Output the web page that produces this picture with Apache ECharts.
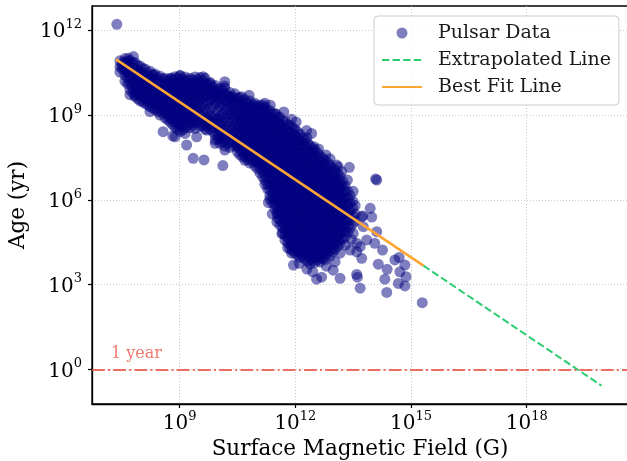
<!DOCTYPE html>
<html>
<head>
<meta charset="utf-8">
<script src="https://cdn.jsdelivr.net/npm/echarts@6/dist/echarts.min.js"></script>
<style>
  html, body { margin: 0; padding: 0; background: #ffffff; }
  #chart { width: 627px; height: 461px; }
</style>
</head>
<body>
<div id="chart"></div>
<script>
// ---- data (log10 units) ----
// Axis extents, as powers of ten
const xLogRange = [6.726, 20.626];
const yLogRange = [-1.228, 12.86];
const xTickExps = [9, 12, 15, 18];
const yTickExps = [0, 3, 6, 9, 12];

// Millisecond-pulsar band: [log10 B, log10 age, log10 age, ...]
const mspBand = [
  [7.45, 10.92, 10.71, 10.52],
  [7.58, 11.0, 10.82, 10.6, 10.41, 10.2],
  [7.71, 10.93, 10.72, 10.5, 10.31, 10.1, 9.9, 9.72],
  [7.84, 10.86, 10.66, 10.45, 10.24, 10.04, 9.85, 9.66],
  [7.97, 10.74, 10.52, 10.31, 10.12, 9.9, 9.7, 9.5],
  [8.10, 10.63, 10.42, 10.22, 10.0, 9.8, 9.6, 9.41],
  [8.23, 10.55, 10.33, 10.12, 9.92, 9.7, 9.5, 9.3],
  [8.36, 10.45, 10.24, 10.02, 9.82, 9.6, 9.4, 9.2],
  [8.49, 10.37, 10.16, 9.95, 9.75, 9.55, 9.35, 9.15, 9.0],
  [8.62, 10.3, 10.1, 9.9, 9.7, 9.5, 9.3, 9.1, 8.9],
  [8.75, 10.3, 10.1, 9.88, 9.68, 9.5, 9.3, 9.1, 8.92, 8.75],
  [8.88, 10.36, 10.15, 9.95, 9.75, 9.55, 9.35, 9.15, 8.95, 8.75, 8.56],
  [9.01, 10.4, 10.2, 10.0, 9.8, 9.6, 9.4, 9.2, 9.0, 8.8, 8.6, 8.42],
  [9.14, 10.35, 10.15, 9.95, 9.75, 9.55, 9.35, 9.15, 8.95, 8.75, 8.55, 8.35],
  [9.27, 10.3, 10.1, 9.9, 9.7, 9.5, 9.3, 9.1, 8.9, 8.72, 8.55],
  [9.40, 10.35, 10.14, 9.95, 9.75, 9.55, 9.33, 9.12, 8.95, 8.74, 8.52],
  [9.53, 10.33, 10.14, 9.95, 9.74, 9.55, 9.3, 9.02, 8.8, 8.6],
  [9.66, 10.3, 10.1, 9.9, 9.7, 9.48, 9.2, 8.9, 8.7, 8.5],
  [9.79, 10.15, 9.95, 9.75, 9.55, 9.25, 8.95, 8.74, 8.5],
  [9.92, 10.05, 9.85, 9.64, 9.4, 9.0, 8.8, 8.55, 8.3, 8.12],
  [10.05, 9.95, 9.75, 9.55, 9.3, 8.95, 8.7, 8.45, 8.2, 8.0],
  [10.17, 9.95, 9.74, 9.5, 9.2, 8.9, 8.6, 8.35, 8.1, 7.9],
  [10.30, 9.8, 9.6, 9.4, 9.15, 8.9, 8.6, 8.35, 8.1, 7.86],
  [10.43, 9.75, 9.55, 9.35, 9.15, 8.9, 8.65, 8.4, 8.15, 7.9]
];

// Inner part of the same band, between the columns above
const mspBandInner = [
  [7.52, 10.81, 10.62],
  [7.65, 10.9, 10.7, 10.5, 10.3, 10.1],
  [7.78, 10.85, 10.62, 10.41, 10.2, 10.0, 9.8],
  [7.91, 10.75, 10.55, 10.35, 10.15, 9.95, 9.75, 9.58],
  [8.04, 10.65, 10.45, 10.25, 10.05, 9.85, 9.65, 9.48],
  [8.17, 10.5, 10.3, 10.1, 9.9, 9.7, 9.5, 9.36],
  [8.30, 10.42, 10.22, 10.02, 9.82, 9.62, 9.42, 9.25],
  [8.43, 10.32, 10.12, 9.92, 9.72, 9.52, 9.32, 9.12],
  [8.56, 10.28, 10.06, 9.86, 9.66, 9.46, 9.26, 9.06],
  [8.69, 10.22, 10.0, 9.8, 9.6, 9.4, 9.2, 9.0, 8.84],
  [8.82, 10.25, 10.04, 9.84, 9.64, 9.44, 9.24, 9.04, 8.84, 8.66],
  [8.95, 10.3, 10.08, 9.88, 9.68, 9.48, 9.28, 9.08, 8.88, 8.68, 8.5],
  [9.08, 10.28, 10.08, 9.88, 9.68, 9.48, 9.28, 9.08, 8.88, 8.68, 8.48],
  [9.21, 10.24, 10.04, 9.84, 9.64, 9.44, 9.24, 9.04, 8.84, 8.64],
  [9.34, 10.24, 10.04, 9.84, 9.64, 9.44, 9.24, 9.04, 8.84, 8.64],
  [9.47, 10.25, 10.05, 9.85, 9.65, 9.45, 9.2, 8.95, 8.72],
  [9.60, 10.22, 10.02, 9.82, 9.62, 9.4, 9.1, 8.82, 8.62],
  [9.73, 10.1, 9.9, 9.7, 9.45, 9.1, 8.85, 8.62],
  [9.86, 10.0, 9.8, 9.58, 9.3, 8.92, 8.68, 8.42],
  [9.99, 9.9, 9.7, 9.48, 9.15, 8.85, 8.6, 8.35, 8.15],
  [10.11, 9.85, 9.62, 9.38, 9.05, 8.78, 8.5, 8.25, 8.05],
  [10.24, 9.7, 9.5, 9.28, 9.02, 8.75, 8.48, 8.22, 8.0],
  [10.37, 9.66, 9.45, 9.25, 9.02, 8.78, 8.52, 8.28, 8.04],
  [10.50, 9.6, 9.4, 9.2, 9.0, 8.78, 8.55, 8.32, 8.1, 7.88, 7.7]
];

// Normal-pulsar cloud: [log10 B, log10 age, ...]
const mainCloud = [
  [10.56, 9.62, 9.42, 9.2, 9.0, 8.8, 8.6, 8.4, 8.2, 8.0, 7.8, 7.6],
  [10.69, 9.55, 9.35, 9.15, 8.95, 8.75, 8.55, 8.35, 8.15, 7.95, 7.75, 7.55, 7.4],
  [10.82, 9.5, 9.3, 9.1, 8.9, 8.7, 8.5, 8.3, 8.1, 7.9, 7.7, 7.5, 7.3],
  [10.95, 9.42, 9.22, 9.0, 8.8, 8.6, 8.4, 8.2, 8.0, 7.8, 7.6, 7.4, 7.2],
  [11.08, 9.35, 9.15, 8.95, 8.75, 8.55, 8.35, 8.15, 7.95, 7.75, 7.55, 7.35, 7.15, 6.95],
  [11.21, 9.28, 9.1, 8.9, 8.7, 8.5, 8.3, 8.1, 7.9, 7.7, 7.5, 7.3, 7.1, 6.9, 6.7, 6.55],
  [11.34, 9.16, 8.95, 8.75, 8.55, 8.35, 8.15, 7.95, 7.75, 7.55, 7.35, 7.15, 6.95, 6.75, 6.55, 6.35, 6.15, 6.02],
  [11.47, 9.05, 8.85, 8.65, 8.45, 8.25, 8.05, 7.85, 7.65, 7.45, 7.25, 7.05, 6.85, 6.65, 6.45, 6.25, 6.05, 5.85, 5.68],
  [11.60, 8.92, 8.7, 8.5, 8.3, 8.1, 7.9, 7.7, 7.5, 7.3, 7.1, 6.9, 6.7, 6.5, 6.3, 6.1, 5.9, 5.7, 5.5, 5.3, 5.1],
  [11.73, 8.78, 8.55, 8.35, 8.15, 7.95, 7.75, 7.55, 7.35, 7.15, 6.95, 6.75, 6.55, 6.35, 6.15, 5.95, 5.75, 5.55, 5.35, 5.15, 4.95, 4.75, 4.57],
  [11.86, 8.64, 8.4, 8.2, 8.0, 7.8, 7.6, 7.4, 7.2, 7.0, 6.8, 6.6, 6.4, 6.2, 6.0, 5.8, 5.6, 5.4, 5.2, 5.0, 4.8, 4.6, 4.42, 4.26],
  [11.99, 8.5, 8.3, 8.1, 7.9, 7.7, 7.5, 7.3, 7.1, 6.9, 6.7, 6.5, 6.3, 6.1, 5.9, 5.7, 5.5, 5.3, 5.1, 4.9, 4.7, 4.5, 4.3, 4.1],
  [12.12, 8.32, 8.1, 7.9, 7.7, 7.5, 7.3, 7.1, 6.9, 6.7, 6.5, 6.3, 6.1, 5.9, 5.7, 5.5, 5.3, 5.1, 4.9, 4.7, 4.5, 4.3, 4.12, 3.96],
  [12.25, 8.1, 7.9, 7.7, 7.5, 7.3, 7.1, 6.9, 6.7, 6.5, 6.3, 6.1, 5.9, 5.7, 5.5, 5.3, 5.1, 4.9, 4.7, 4.5, 4.3, 4.1, 3.9],
  [12.38, 7.92, 7.7, 7.5, 7.3, 7.1, 6.9, 6.7, 6.5, 6.3, 6.1, 5.9, 5.7, 5.5, 5.3, 5.1, 4.9, 4.7, 4.5, 4.3, 4.1, 3.9, 3.72],
  [12.51, 7.75, 7.55, 7.35, 7.15, 6.95, 6.75, 6.55, 6.35, 6.15, 5.95, 5.75, 5.55, 5.35, 5.15, 4.95, 4.75, 4.55, 4.35, 4.15, 3.95, 3.78],
  [12.64, 7.55, 7.35, 7.15, 6.95, 6.75, 6.55, 6.35, 6.15, 5.95, 5.75, 5.55, 5.35, 5.15, 4.95, 4.75, 4.55, 4.35, 4.15, 3.95, 3.8],
  [12.77, 7.4, 7.2, 7.0, 6.8, 6.6, 6.4, 6.2, 6.0, 5.8, 5.6, 5.4, 5.2, 5.0, 4.8, 4.6, 4.4, 4.2, 4.0, 3.88],
  [12.90, 7.22, 7.0, 6.8, 6.6, 6.4, 6.2, 6.0, 5.8, 5.6, 5.4, 5.2, 5.0, 4.8, 4.6, 4.4, 4.2, 4.0],
  [13.03, 7.05, 6.85, 6.65, 6.45, 6.25, 6.05, 5.85, 5.65, 5.45, 5.25, 5.05, 4.85, 4.65, 4.45, 4.25],
  [13.16, 6.82, 6.6, 6.4, 6.2, 6.0, 5.8, 5.6, 5.4, 5.2, 5.0, 4.8, 4.6, 4.45],
  [13.29, 6.5, 6.3, 6.1, 5.9, 5.7, 5.5, 5.3, 5.1, 4.9, 4.7],
  [13.42, 6.15, 5.9, 5.6, 5.3, 5.0],
  [13.55, 5.8, 5.5, 5.25]
];

// Inner part of the normal-pulsar cloud, between the columns above
const mainCloudInner = [
  [10.63, 9.5, 9.3, 9.1, 8.9, 8.7, 8.5, 8.3, 8.1, 7.9, 7.7, 7.52],
  [10.76, 9.42, 9.22, 9.02, 8.82, 8.62, 8.42, 8.22, 8.02, 7.82, 7.62, 7.42],
  [10.89, 9.35, 9.15, 8.95, 8.75, 8.55, 8.35, 8.15, 7.95, 7.75, 7.55, 7.35],
  [11.02, 9.3, 9.1, 8.9, 8.7, 8.5, 8.3, 8.1, 7.9, 7.7, 7.5, 7.3, 7.1],
  [11.15, 9.22, 9.02, 8.82, 8.62, 8.42, 8.22, 8.02, 7.82, 7.62, 7.42, 7.22, 7.02, 6.82],
  [11.28, 9.15, 8.95, 8.75, 8.55, 8.35, 8.15, 7.95, 7.75, 7.55, 7.35, 7.15, 6.95, 6.75, 6.55, 6.38],
  [11.41, 9.05, 8.85, 8.65, 8.45, 8.25, 8.05, 7.85, 7.65, 7.45, 7.25, 7.05, 6.85, 6.65, 6.45, 6.25, 6.05, 5.88],
  [11.54, 8.92, 8.72, 8.52, 8.32, 8.12, 7.92, 7.72, 7.52, 7.32, 7.12, 6.92, 6.72, 6.52, 6.32, 6.12, 5.92, 5.72, 5.52, 5.35],
  [11.67, 8.8, 8.6, 8.4, 8.2, 8.0, 7.8, 7.6, 7.4, 7.2, 7.0, 6.8, 6.6, 6.4, 6.2, 6.0, 5.8, 5.6, 5.4, 5.2, 5.0, 4.82],
  [11.80, 8.66, 8.46, 8.26, 8.06, 7.86, 7.66, 7.46, 7.26, 7.06, 6.86, 6.66, 6.46, 6.26, 6.06, 5.86, 5.66, 5.46, 5.26, 5.06, 4.86, 4.66, 4.48],
  [11.93, 8.55, 8.35, 8.15, 7.95, 7.75, 7.55, 7.35, 7.15, 6.95, 6.75, 6.55, 6.35, 6.15, 5.95, 5.75, 5.55, 5.35, 5.15, 4.95, 4.75, 4.55, 4.35, 4.2],
  [12.06, 8.4, 8.2, 8.0, 7.8, 7.6, 7.4, 7.2, 7.0, 6.8, 6.6, 6.4, 6.2, 6.0, 5.8, 5.6, 5.4, 5.2, 5.0, 4.8, 4.6, 4.4, 4.2, 4.04],
  [12.19, 8.2, 8.0, 7.8, 7.6, 7.4, 7.2, 7.0, 6.8, 6.6, 6.4, 6.2, 6.0, 5.8, 5.6, 5.4, 5.2, 5.0, 4.8, 4.6, 4.4, 4.2, 4.0],
  [12.32, 8.0, 7.8, 7.6, 7.4, 7.2, 7.0, 6.8, 6.6, 6.4, 6.2, 6.0, 5.8, 5.6, 5.4, 5.2, 5.0, 4.8, 4.6, 4.4, 4.2, 4.0, 3.82],
  [12.45, 7.82, 7.62, 7.42, 7.22, 7.02, 6.82, 6.62, 6.42, 6.22, 6.02, 5.82, 5.62, 5.42, 5.22, 5.02, 4.82, 4.62, 4.42, 4.22, 4.02, 3.85],
  [12.58, 7.65, 7.45, 7.25, 7.05, 6.85, 6.65, 6.45, 6.25, 6.05, 5.85, 5.65, 5.45, 5.25, 5.05, 4.85, 4.65, 4.45, 4.25, 4.05, 3.88],
  [12.71, 7.48, 7.28, 7.08, 6.88, 6.68, 6.48, 6.28, 6.08, 5.88, 5.68, 5.48, 5.28, 5.08, 4.88, 4.68, 4.48, 4.28, 4.08, 3.92],
  [12.84, 7.3, 7.1, 6.9, 6.7, 6.5, 6.3, 6.1, 5.9, 5.7, 5.5, 5.3, 5.1, 4.9, 4.7, 4.5, 4.3, 4.1],
  [12.97, 7.12, 6.92, 6.72, 6.52, 6.32, 6.12, 5.92, 5.72, 5.52, 5.32, 5.12, 4.92, 4.72, 4.52, 4.32, 4.15],
  [13.10, 6.92, 6.72, 6.52, 6.32, 6.12, 5.92, 5.72, 5.52, 5.32, 5.12, 4.92, 4.72, 4.52, 4.36],
  [13.23, 6.65, 6.45, 6.25, 6.05, 5.85, 5.65, 5.45, 5.25, 5.05, 4.85, 4.62],
  [13.36, 6.3, 6.05, 5.8, 5.55, 5.3, 5.05, 4.85],
  [13.49, 5.95, 5.7, 5.42, 5.15]
];

// Sparse pulsars around the edges of the two groups: [log10 B, log10 age]
const edgePulsars = [
  [7.37, 12.21], [7.67, 11.01], [7.80, 11.07], [7.63, 10.53], [7.56, 10.88], [7.50, 10.74],
  [8.32, 10.42], [8.79, 10.30], [9.01, 10.39], [9.61, 10.36], [9.79, 10.12], [10.17, 10.18],
  [10.16, 10.03], [9.92, 9.71], [10.30, 9.65], [10.61, 9.65], [10.93, 9.36], [11.21, 9.42],
  [7.84, 9.71], [8.23, 9.12], [8.57, 8.41], [8.88, 8.23], [9.18, 7.94], [9.44, 8.23],
  [9.70, 8.47], [9.92, 8.0], [10.17, 7.76], [10.48, 7.94], [10.74, 7.70], [11.0, 7.35],
  [9.35, 7.47], [9.63, 7.41], [10.12, 7.21], [8.82, 8.26], [10.8, 9.7], [11.35, 9.35],
  [11.50, 9.04], [11.17, 9.36], [12.29, 8.45], [12.42, 8.35], [12.48, 7.88], [12.79, 7.59],
  [13.07, 7.23], [13.40, 7.15], [13.11, 7.17], [14.08, 6.74], [13.75, 5.43], [13.98, 5.39],
  [11.70, 9.11], [12.02, 8.75], [11.9, 8.85], [12.3, 8.2], [12.6, 7.8], [12.9, 7.45],
  [13.2, 7.0], [13.35, 6.7], [13.5, 6.3],
  [11.3, 5.9], [11.4, 5.5], [11.65, 4.8], [11.8, 4.3], [12.1, 3.75], [12.3, 3.55],
  [12.45, 3.45], [12.8, 3.65], [13.3, 4.4], [13.45, 4.6],
  [11.90, 4.11], [11.95, 3.69], [11.52, 5.52], [11.52, 5.22], [12.55, 3.19], [12.68, 3.26],
  [12.98, 3.51], [13.16, 3.22], [13.59, 3.36], [13.61, 3.26], [13.68, 2.87], [13.72, 5.40],
  [13.76, 5.05], [13.59, 4.46], [13.68, 4.34], [13.85, 4.58], [14.06, 4.46], [14.26, 4.22],
  [13.72, 3.93], [14.15, 3.72], [14.38, 3.54], [14.32, 3.19], [14.37, 2.72], [14.58, 3.87],
  [14.69, 3.96], [14.84, 3.69], [14.71, 3.45], [14.67, 3.04], [14.87, 3.28], [14.84, 2.95],
  [15.29, 2.36], [13.50, 4.81], [13.94, 5.70], [14.11, 4.87], [13.42, 4.22], [13.59, 4.16],
  [13.16, 4.11], [13.03, 3.81], [14.11, 6.70]
];

// Fitted age–field relation (endpoints, log10 units)
const bestFitLog = [[7.35, 10.97], [15.32, 3.67]];
const extrapolatedLog = [[15.32, 3.67], [19.94, -0.58]];
const oneYear = 1;

// ---- build ----
const FONT = 'DejaVu Serif';
const p10 = (v) => Math.pow(10, v);

function fromColumns(cols) {
  const out = [];
  cols.forEach((c) => {
    for (let i = 1; i < c.length; i++) out.push([p10(c[0]), p10(c[i])]);
  });
  return out;
}
const fromPairs = (pairs) => pairs.map((p) => [p10(p[0]), p10(p[1])]);

const pulsarPoints = []
  .concat(fromColumns(mspBand))
  .concat(fromColumns(mspBandInner))
  .concat(fromColumns(mainCloud))
  .concat(fromColumns(mainCloudInner))
  .concat(fromPairs(edgePulsars));

const powLabel = (v) => '{b|10}{s|' + Math.round(Math.log10(v)) + '}';
const labelRich = {
  b: { fontFamily: FONT, fontSize: 20, color: '#000', lineHeight: 24, verticalAlign: 'bottom' },
  s: { fontFamily: FONT, fontSize: 13, color: '#000', lineHeight: 13, verticalAlign: 'top' }
};
const gridLine = { show: true, lineStyle: { color: '#bcbcbc', width: 0.8, type: [1, 2] } };
const spine = { show: true, lineStyle: { color: '#000', width: 1.3 } };
const noMarker = { color: 'rgba(0,0,0,0)', borderWidth: 0 };

const chart = echarts.init(document.getElementById('chart'), null, { renderer: 'canvas' });
chart.setOption({
  animation: false,
  backgroundColor: '#ffffff',
  grid: {
    left: 92, top: 6, right: -1, bottom: 57,
    outerBoundsMode: 'none', containLabel: false,
    show: true, borderColor: '#000', borderWidth: 1.3, backgroundColor: 'transparent'
  },
  xAxis: {
    type: 'log', logBase: 10,
    min: p10(xLogRange[0]), max: p10(xLogRange[1]),
    name: 'Surface Magnetic Field (G)', nameLocation: 'middle', nameGap: 34,
    nameTextStyle: { fontFamily: FONT, fontSize: 21.5, color: '#000' },
    axisLine: spine,
    axisTick: { show: true, length: 4, customValues: xTickExps.map(p10), lineStyle: { color: '#000', width: 1.2 } },
    axisLabel: { customValues: xTickExps.map(p10), formatter: powLabel, rich: labelRich, margin: 6 },
    splitLine: gridLine,
    minorTick: { show: false }, minorSplitLine: { show: false }
  },
  yAxis: {
    type: 'log', logBase: 10,
    min: p10(yLogRange[0]), max: p10(yLogRange[1]),
    name: 'Age (yr)', nameLocation: 'middle', nameGap: 63,
    nameTextStyle: { fontFamily: FONT, fontSize: 21.5, color: '#000' },
    axisLine: spine,
    axisTick: { show: true, length: 4, customValues: yTickExps.map(p10), lineStyle: { color: '#000', width: 1.2 } },
    axisLabel: { customValues: yTickExps.map(p10), formatter: powLabel, rich: labelRich, margin: 10 },
    splitLine: gridLine,
    minorTick: { show: false }, minorSplitLine: { show: false }
  },
  legend: {
    data: [
      { name: 'Pulsar Data' },
      { name: 'Extrapolated Line', itemStyle: noMarker },
      { name: 'Best Fit Line', itemStyle: noMarker }
    ],
    orient: 'vertical', left: 374, top: 16,
    itemWidth: 40, itemHeight: 11, itemGap: 7,
    padding: [7, 8, 8, 7],
    backgroundColor: 'rgba(255,255,255,0.8)',
    borderColor: '#cccccc', borderWidth: 1, borderRadius: 4,
    textStyle: { fontFamily: FONT, fontSize: 19, color: '#1a1a1a', lineHeight: 20, padding: [0, 0, 0, 11] }
  },
  series: [
    {
      name: 'Pulsar Data', type: 'scatter',
      data: pulsarPoints, symbol: 'circle', symbolSize: 11,
      itemStyle: { color: 'rgba(0,0,128,0.5)', opacity: 1 },
      large: false, progressive: 0, z: 2
    },
    {
      name: 'Extrapolated Line', type: 'line',
      data: fromPairs(extrapolatedLog), symbol: 'none',
      lineStyle: { color: '#2ecc71', width: 2, type: [7.4, 3.2] },
      itemStyle: { color: '#2ecc71' },
      z: 4,
      markLine: {
        silent: true, symbol: ['none', 'none'],
        data: [{ yAxis: oneYear }],
        lineStyle: { color: 'rgba(231,76,60,0.8)', width: 2, type: [12.8, 3.2, 2, 3.2] },
        label: {
          show: true, position: 'insideStartTop', formatter: '1 year',
          distance: [19, 7],
          fontFamily: FONT, fontSize: 16, color: 'rgba(231,76,60,0.75)'
        }
      }
    },
    {
      name: 'Best Fit Line', type: 'line',
      data: fromPairs(bestFitLog), symbol: 'none',
      lineStyle: { color: '#ffa533', width: 2.5 },
      itemStyle: { color: '#ffa533' },
      z: 5
    }
  ]
});
</script>
</body>
</html>
